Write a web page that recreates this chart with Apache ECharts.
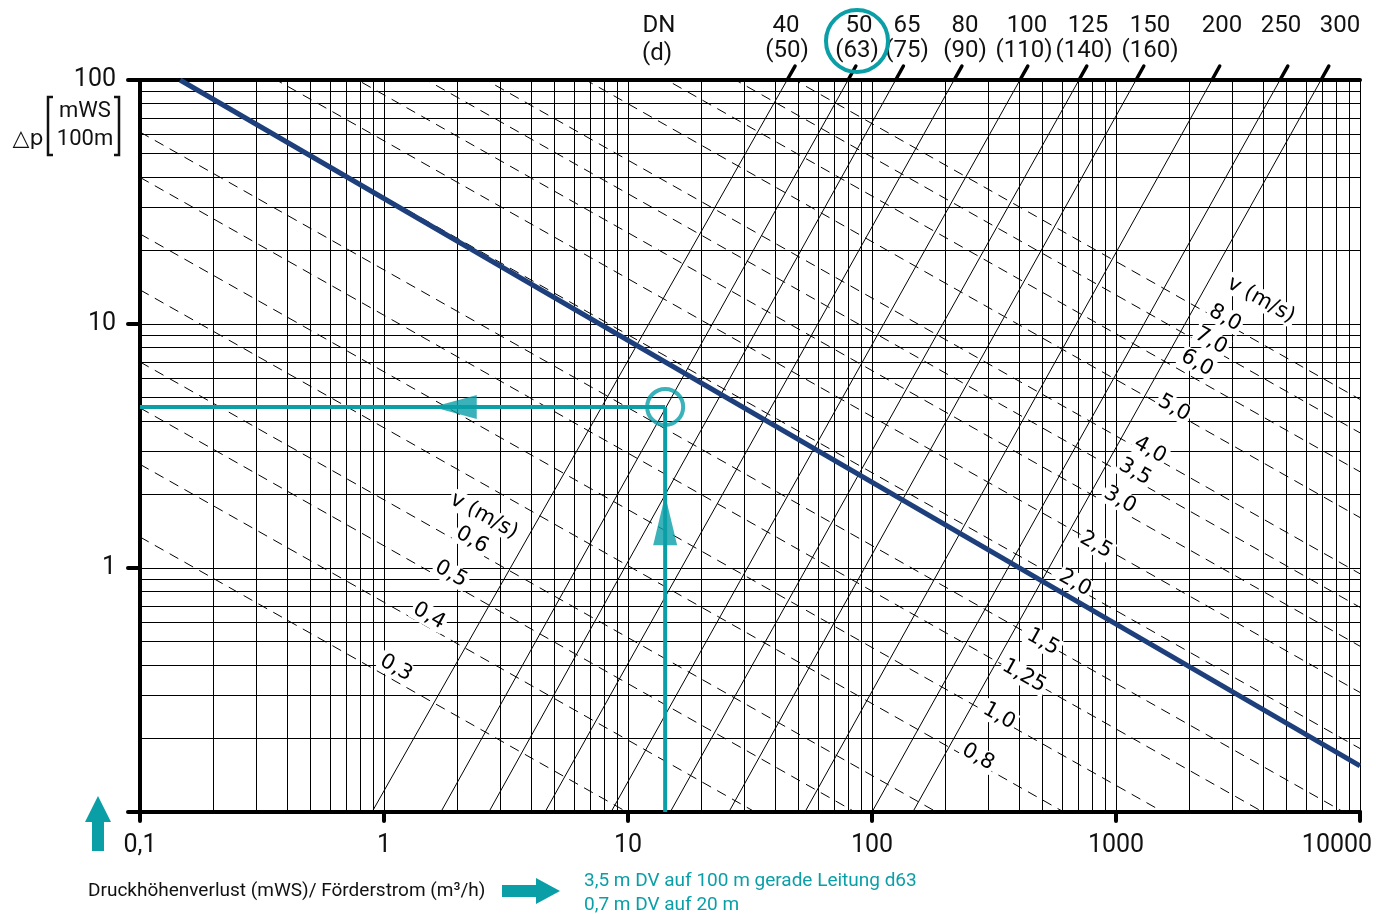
<!DOCTYPE html>
<html>
<head>
<meta charset="utf-8">
<title>Druckverlust Diagramm</title>
<script src="https://cdn.jsdelivr.net/npm/echarts@6/dist/echarts.min.js"></script>
<style>
  html, body { margin: 0; padding: 0; background: #fff; }
  #chart { width: 1384px; height: 914px; }
</style>
</head>
<body>
<div id="chart"></div>
<script>
// Förderstrom Q (m3/h) on x, Druckhöhenverlust (mWS/100m) on y, both log
const xMin = 0.1
const xMax = 10000
const yMin = 0.1
const yMax = 100

// pipe lines (solid), Q read where they cross dp = 0.1 and dp = 100
const dnNames = ['40', '50', '65', '80', '100', '125', '150', '200', '250', '300']
const dnOuter = ['(50)', '(63)', '(75)', '(90)', '(110)', '(140)', '(160)', '', '', '']
const dnQBottom = [0.893, 1.71, 2.69, 4.57, 8.52, 14.9, 25.9, 53.1, 100, 147]
const dnQTop = [44.9, 79.8, 125, 217, 404, 705, 1208, 2473, 4700, 6920]

// velocity lines (dashed), dp read at Q = 0.1 and Q = 10000
const vNames = ['0,3', '0,4', '0,5', '0,6', '0,8', '1,0', '1,25', '1,5', '2,0', '2,5', '3,0', '3,5', '4,0', '5,0', '6,0', '7,0', '8,0']
const vDpLeft = [1.34, 2.66, 4.53, 6.99, 13.8, 23.4, 39.9, 61.2, 122, 207, 319, 461, 633, 1079, 1658, 2394, 3284]
const vDpRight = [0.00201, 0.00397, 0.00677, 0.01046, 0.0206, 0.035, 0.0596, 0.0916, 0.182, 0.309, 0.478, 0.69, 0.947, 1.61, 2.48, 3.58, 4.91]

// blue curve
const curveQ = [0.146, 10000]
const curveDp = [100, 0.1545]

// worked example (d63)
const exQ = 14.2
const exDp = 4.57
const arrowLeftQ = 1.95
const arrowUpDp = 1.57

const FONT = 'Roboto, "Noto Sans", sans-serif'
const VFONT = '21px "DejaVu Sans", sans-serif'
const TEAL = '#0a9fa7'
const NAVY = '#1d3f7b'

function decadeGrid(lo, hi) {
  const out = []
  for (let e = Math.round(Math.log10(lo)); e < Math.round(Math.log10(hi)); e++) {
    for (let m = 1; m <= 9; m++) out.push(+(m * Math.pow(10, e)).toPrecision(6))
  }
  out.push(hi)
  return out
}

function fmt(v) {
  return String(+(+v).toPrecision(6)).replace('.', ',')
}

const chart = echarts.init(document.getElementById('chart'))

const series = []

series.push({
  type: 'line', data: [[1, 1]], symbol: 'none', lineStyle: { width: 0 }, silent: true, z: 1,
  markLine: {
    silent: true, symbol: ['none', 'none'], animation: false, label: { show: false },
    lineStyle: { color: '#000', width: 1, type: 'solid' },
    emphasis: { disabled: true },
    data: decadeGrid(xMin, xMax).map(v => ({ xAxis: v }))
      .concat(decadeGrid(yMin, yMax).map(v => ({ yAxis: v })))
  }
})

dnNames.forEach((n, i) => {
  series.push({
    name: 'DN ' + n, type: 'line', symbol: 'none', silent: true, z: 3,
    lineStyle: { color: '#000', width: 1 },
    data: [[dnQBottom[i], yMin], [dnQTop[i], yMax]]
  })
})

vNames.forEach((n, i) => {
  series.push({
    name: 'v ' + n, type: 'line', symbol: 'none', silent: true, z: 3,
    lineStyle: { color: '#000', width: 1, type: [10, 7] },
    data: [[xMin, vDpLeft[i]], [xMax, vDpRight[i]]]
  })
})

series.push({
  type: 'line', symbol: 'none', silent: true, z: 5,
  lineStyle: { color: NAVY, width: 5 },
  data: curveQ.map((q, i) => [q, curveDp[i]])
})

series.push({
  type: 'line', symbol: 'none', silent: true, z: 6,
  lineStyle: { color: TEAL, width: 4 },
  data: [[xMin, exDp], [exQ, exDp]]
})
series.push({
  type: 'line', symbol: 'none', silent: true, z: 6,
  lineStyle: { color: TEAL, width: 4 },
  data: [[exQ, yMin], [exQ, exDp]]
})
series.push({
  type: 'scatter', silent: true, z: 7,
  symbol: 'circle', symbolSize: 36,
  itemStyle: { color: 'rgba(0,0,0,0)', borderColor: TEAL, borderWidth: 4 },
  data: [[exQ, exDp]]
})
series.push({
  type: 'scatter', silent: true, z: 7,
  symbol: 'triangle', symbolSize: [24, 44], symbolRotate: 90,
  itemStyle: { color: TEAL },
  data: [[arrowLeftQ, exDp]]
})
series.push({
  type: 'scatter', silent: true, z: 7,
  symbol: 'triangle', symbolSize: [24, 50],
  itemStyle: { color: TEAL },
  data: [[exQ, arrowUpDp]]
})

const option = {
  animation: false,
  backgroundColor: '#fff',
  textStyle: { fontFamily: FONT },
  grid: { left: 140, right: 24, top: 80, bottom: 102, containLabel: false, outerBoundsMode: 'none' },
  xAxis: [{
    type: 'log', logBase: 10, min: xMin, max: xMax, position: 'bottom',
    axisLine: { onZero: false, lineStyle: { color: '#000', width: 4, cap: 'round' } },
    axisTick: { length: 9, lineStyle: { color: '#000', width: 4, cap: 'round' } },
    axisLabel: {
      margin: 21, color: '#111', fontSize: 25, fontFamily: FONT,
      // the last label sits a little left of its tick, as in the original
      formatter: v => (v >= xMax * 0.999 ? '{last|' + fmt(v) + '}' : fmt(v)),
      rich: { last: { fontSize: 25, fontFamily: FONT, color: '#111', padding: [0, 46, 0, 0] } }
    },
    splitLine: { show: false }
  }, {
    type: 'log', logBase: 10, min: xMin, max: xMax, position: 'top',
    axisLine: { onZero: false, lineStyle: { color: '#000', width: 4, cap: 'round' } },
    axisTick: { show: false }, axisLabel: { show: false }, splitLine: { show: false }
  }],
  yAxis: {
    type: 'log', logBase: 10, min: yMin, max: yMax,
    axisLine: { onZero: false, lineStyle: { color: '#000', width: 4, cap: 'round' } },
    axisTick: { length: 12, lineStyle: { color: '#000', width: 4, cap: 'round' } },
    axisLabel: {
      margin: 24, color: '#111', fontSize: 25, fontFamily: FONT, padding: [4, 0, 0, 0],
      formatter: v => (v < 0.5 ? '' : fmt(v))
    },
    splitLine: { show: false }
  },
  series: series
}

chart.setOption(option)

// ---- annotations ----
const g = []
const ROT = -0.51

function txt(text, x, y, font, fill, align) {
  return { type: 'text', x: x, y: y, z: 100, silent: true,
    style: { text: text, x: 0, y: 0, font: font, fill: fill || '#111', align: align || 'center', verticalAlign: 'middle' } }
}

// slashes where pipe lines leave the top border
dnQTop.forEach((q, i) => {
  const sIdx = 1 + i
  const p1 = chart.convertToPixel({ seriesIndex: sIdx }, [q, yMax])
  const p0 = chart.convertToPixel({ seriesIndex: sIdx }, [dnQBottom[i], yMin])
  const dx = p1[0] - p0[0], dy = p1[1] - p0[1]
  const len = Math.sqrt(dx * dx + dy * dy)
  g.push({ type: 'line', z: 100, silent: true,
    shape: { x1: p1[0], y1: p1[1], x2: p1[0] + dx / len * 16, y2: p1[1] + dy / len * 16 },
    style: { stroke: '#000', lineWidth: 3.5, lineCap: 'round' } })
})

// top DN / d labels
const dnLabelX = [786, 859, 907, 965, 1027, 1088, 1150, 1222, 1281, 1340]
const dLabelX = [787, 857, 907, 965, 1024, 1084, 1150]
const F24 = '24px ' + FONT
g.push(txt('DN', 659, 26, F24))
g.push(txt('(d)', 657, 54, F24))
dnNames.forEach((n, i) => {
  g.push(txt(n, dnLabelX[i], 26, F24))
  if (dnOuter[i]) g.push(txt(dnOuter[i], dLabelX[i], 51, F24))
})
g.push({ type: 'circle', z: 101, silent: true, shape: { cx: 857, cy: 41, r: 31 },
  style: { fill: 'none', stroke: TEAL, lineWidth: 4 } })

// velocity labels
const vLabelPos = [[396, 668], [429, 616], [451, 574], [472, 540], [978, 757], [999, 716], [1024, 676],
  [1043, 642], [1075, 583], [1096, 545], [1120, 500], [1135, 472], [1150, 450], [1174, 408],
  [1197, 363], [1211, 341], [1225, 318]]
function vlabel(text, p) {
  return { type: 'text', x: p[0], y: p[1], rotation: ROT, z: 100, silent: true,
    style: { text: text, x: 0, y: 0, font: VFONT, fill: '#000', align: 'center', verticalAlign: 'middle',
      backgroundColor: '#fff', padding: [0, 2] } }
}
vNames.forEach((n, i) => g.push(vlabel(n, vLabelPos[i])))
g.push(vlabel('v (m/s)', [484, 516]))
g.push(vlabel('v (m/s)', [1261, 300]))

// y axis title
const F22 = '22px ' + FONT
g.push(txt('\u25B3p', 28, 139, '22px "DejaVu Sans", sans-serif'))
g.push(txt('mWS', 85, 111, F22))
g.push(txt('100m', 85, 139, F22))
g.push({ type: 'polyline', z: 100, silent: true, shape: { points: [[53, 97], [48, 97], [48, 155], [53, 155]] },
  style: { stroke: '#111', lineWidth: 2.5, fill: 'none' } })
g.push({ type: 'polyline', z: 100, silent: true, shape: { points: [[114, 97], [119, 97], [119, 155], [114, 155]] },
  style: { stroke: '#111', lineWidth: 2.5, fill: 'none' } })

// bottom left arrow
g.push({ type: 'polygon', z: 100, silent: true,
  shape: { points: [[92, 851], [104, 851], [104, 822], [111, 822], [98, 796], [85, 822], [92, 822]] },
  style: { fill: TEAL } })

// legend line at the bottom
g.push(txt('Druckhöhenverlust (mWS)/ Förderstrom (m³/h)', 88, 891, '19px ' + FONT, '#111', 'left'))
g.push({ type: 'polygon', z: 100, silent: true,
  shape: { points: [[502, 885], [536, 885], [536, 878], [560, 891], [536, 904], [536, 897], [502, 897]] },
  style: { fill: TEAL } })
g.push(txt('3,5 m DV auf 100 m gerade Leitung d63', 584, 881, '19px ' + FONT, TEAL, 'left'))
g.push(txt('0,7 m DV auf 20 m', 584, 905, '19px ' + FONT, TEAL, 'left'))

chart.setOption({ graphic: g })
</script>
</body>
</html>
